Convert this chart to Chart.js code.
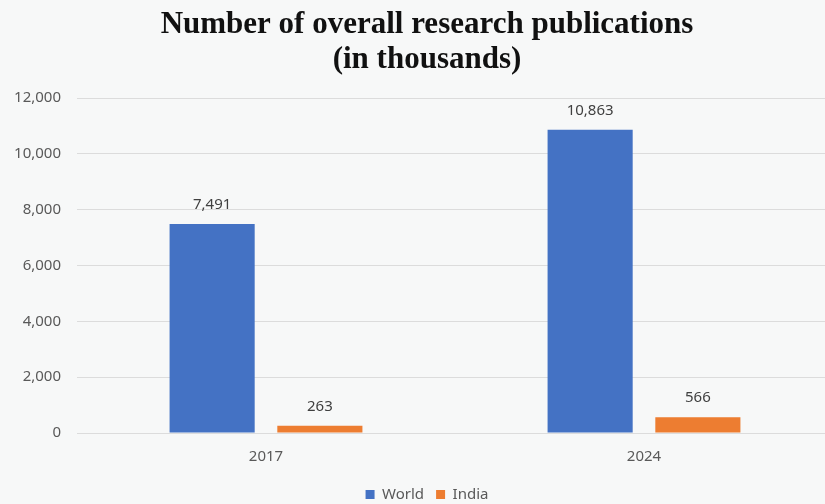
<!DOCTYPE html>
<html>
<head>
<meta charset="utf-8">
<script src="https://cdn.jsdelivr.net/npm/chart.js@4.4.1/dist/chart.umd.min.js"></script>
<style>
  html, body { margin:0; padding:0; background:#f7f8f8; overflow:hidden; }
  #wrap { width:854px; height:504px; }
</style>
</head>
<body>
<div id="wrap"><canvas id="pubChart"></canvas></div>
<script>
const years = ['2017', '2024'];
const worldPubs = [7491, 10863];
const indiaPubs = [263, 566];
const titleLines = ['Number of overall research publications', '(in thousands)'];

const tickFont = { family: 'Noto Sans', size: 15 };

// paint the pale background behind everything
const bgFill = {
  id: 'bgFill',
  beforeDraw(chart){
    const c = chart.ctx;
    c.save();
    c.fillStyle = '#f7f8f8';
    c.fillRect(0, 0, chart.width, chart.height);
    c.restore();
  }
};

// value written above every bar
const barValues = {
  id: 'barValues',
  afterDatasetsDraw(chart){
    const c = chart.ctx;
    c.save();
    c.font = '15px "Noto Sans"';
    c.fillStyle = '#404040';
    c.textAlign = 'center';
    c.textBaseline = 'middle';
    chart.data.datasets.forEach((ds, i) => {
      chart.getDatasetMeta(i).data.forEach((bar, j) => {
        c.fillText(ds.data[j].toLocaleString('en-US'), bar.x, bar.y - 19);
      });
    });
    c.restore();
  }
};

new Chart(document.getElementById('pubChart'), {
  type: 'bar',
  data: {
    labels: years,
    datasets: [
      { label: 'World', data: worldPubs, backgroundColor: '#4472c4',
        categoryPercentage: 0.57, barPercentage: 0.79 },
      { label: 'India', data: indiaPubs, backgroundColor: '#ed7d31',
        categoryPercentage: 0.57, barPercentage: 0.79 }
    ]
  },
  options: {
    responsive: true,
    maintainAspectRatio: false,
    animation: false,
    layout: { padding: { top: 0, left: 0, right: 0, bottom: -8 } },
    plugins: {
      title: {
        display: true,
        text: titleLines,
        color: '#111',
        font: { family: 'Liberation Serif', size: 31, weight: 'bold', lineHeight: 1.13 },
        padding: { top: 7, bottom: 21 }
      },
      legend: {
        position: 'bottom',
        labels: {
          color: '#595959',
          font: { family: 'Noto Sans', size: 15 },
          boxWidth: 9, boxHeight: 9, padding: 12
        }
      },
      tooltip: { enabled: false }
    },
    scales: {
      x: {
        grid: { display: false },
        border: { display: false },
        ticks: { color: '#595959', font: tickFont, padding: 7 },
        afterFit(scale){ scale.height += 2; }
      },
      y: {
        min: 0, max: 12000,
        ticks: {
          stepSize: 2000, color: '#595959', font: tickFont, padding: 16,
          callback: v => v.toLocaleString('en-US')
        },
        grid: { color: '#dcdcdc', drawTicks: false },
        border: { display: false },
        afterFit(scale){ scale.width = 77; }
      },
      // empty strip on the right keeps the plot narrower than the title box
      yPad: {
        position: 'right',
        display: true,
        grid: { display: false },
        border: { display: false },
        ticks: { display: false },
        afterFit(scale){ scale.width = 21; }
      }
    }
  },
  plugins: [bgFill, barValues]
});
</script>
</body>
</html>
